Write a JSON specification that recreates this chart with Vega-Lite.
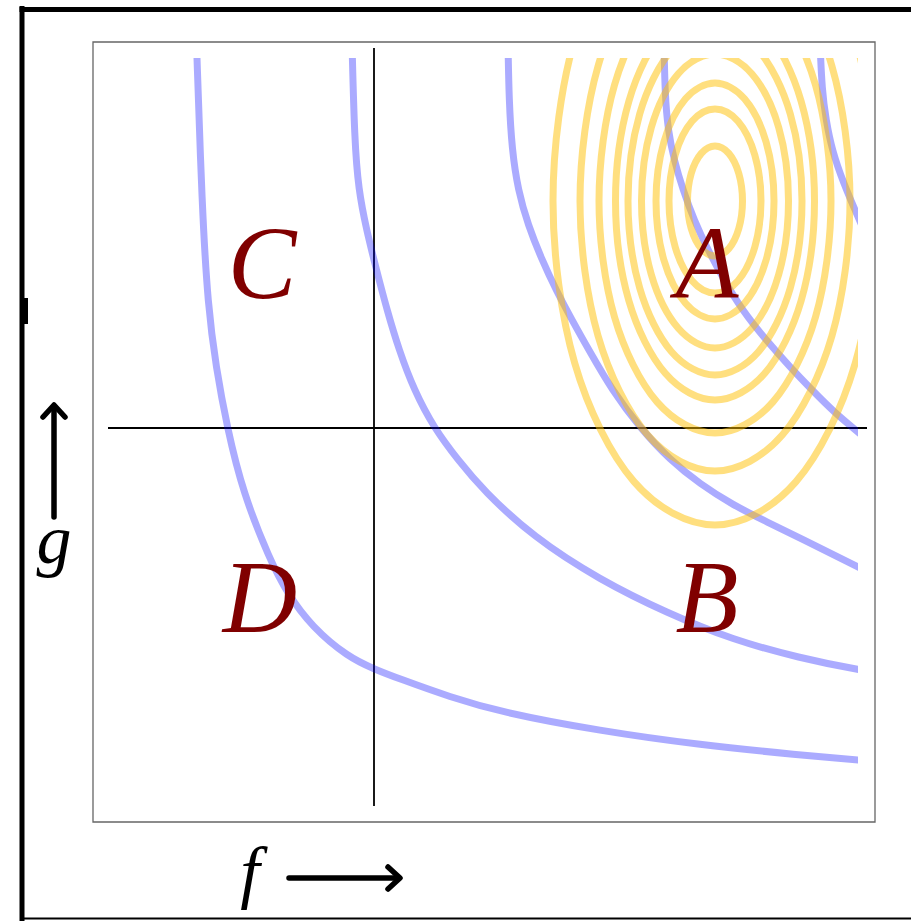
{
  "$schema": "https://vega.github.io/schema/vega-lite/v6.json",
  "width": 750,
  "height": 748,
  "autosize": {"type": "none"},
  "padding": {"left": 108, "top": 58, "right": 53, "bottom": 115},
  "background": "white",
  "config": {"view": {"stroke": null}},
  "datasets": {
    "rings": [
      {"ring": 1, "k": 0, "x": 3.685, "y": 2.27}, {"ring": 1, "k": 1, "x": 3.648, "y": 2.545}, {"ring": 1, "k": 2, "x": 3.548, "y": 2.746}, {"ring": 1, "k": 3, "x": 3.41, "y": 2.82}, {"ring": 1, "k": 4, "x": 3.273, "y": 2.746}, {"ring": 1, "k": 5, "x": 3.172, "y": 2.545}, {"ring": 1, "k": 6, "x": 3.135, "y": 2.27}, {"ring": 1, "k": 7, "x": 3.172, "y": 1.995}, {"ring": 1, "k": 8, "x": 3.273, "y": 1.794}, {"ring": 1, "k": 9, "x": 3.41, "y": 1.72}, {"ring": 1, "k": 10, "x": 3.548, "y": 1.794}, {"ring": 1, "k": 11, "x": 3.648, "y": 1.995},
      {"ring": 2, "k": 0, "x": 3.87, "y": 2.27}, {"ring": 2, "k": 1, "x": 3.808, "y": 2.73}, {"ring": 2, "k": 2, "x": 3.64, "y": 3.067}, {"ring": 2, "k": 3, "x": 3.41, "y": 3.19}, {"ring": 2, "k": 4, "x": 3.18, "y": 3.067}, {"ring": 2, "k": 5, "x": 3.012, "y": 2.73}, {"ring": 2, "k": 6, "x": 2.95, "y": 2.27}, {"ring": 2, "k": 7, "x": 3.012, "y": 1.81}, {"ring": 2, "k": 8, "x": 3.18, "y": 1.473}, {"ring": 2, "k": 9, "x": 3.41, "y": 1.35}, {"ring": 2, "k": 10, "x": 3.64, "y": 1.473}, {"ring": 2, "k": 11, "x": 3.808, "y": 1.81},
      {"ring": 3, "k": 0, "x": 4.0, "y": 2.27}, {"ring": 3, "k": 1, "x": 3.921, "y": 2.86}, {"ring": 3, "k": 2, "x": 3.705, "y": 3.292}, {"ring": 3, "k": 3, "x": 3.41, "y": 3.45}, {"ring": 3, "k": 4, "x": 3.115, "y": 3.292}, {"ring": 3, "k": 5, "x": 2.899, "y": 2.86}, {"ring": 3, "k": 6, "x": 2.82, "y": 2.27}, {"ring": 3, "k": 7, "x": 2.899, "y": 1.68}, {"ring": 3, "k": 8, "x": 3.115, "y": 1.248}, {"ring": 3, "k": 9, "x": 3.41, "y": 1.09}, {"ring": 3, "k": 10, "x": 3.705, "y": 1.248}, {"ring": 3, "k": 11, "x": 3.921, "y": 1.68},
      {"ring": 4, "k": 0, "x": 4.145, "y": 2.27}, {"ring": 4, "k": 1, "x": 4.047, "y": 3.005}, {"ring": 4, "k": 2, "x": 3.778, "y": 3.543}, {"ring": 4, "k": 3, "x": 3.41, "y": 3.74}, {"ring": 4, "k": 4, "x": 3.043, "y": 3.543}, {"ring": 4, "k": 5, "x": 2.773, "y": 3.005}, {"ring": 4, "k": 6, "x": 2.675, "y": 2.27}, {"ring": 4, "k": 7, "x": 2.773, "y": 1.535}, {"ring": 4, "k": 8, "x": 3.043, "y": 0.997}, {"ring": 4, "k": 9, "x": 3.41, "y": 0.8}, {"ring": 4, "k": 10, "x": 3.778, "y": 0.997}, {"ring": 4, "k": 11, "x": 4.047, "y": 1.535},
      {"ring": 5, "k": 0, "x": 4.28, "y": 2.27}, {"ring": 5, "k": 1, "x": 4.163, "y": 3.14}, {"ring": 5, "k": 2, "x": 3.845, "y": 3.777}, {"ring": 5, "k": 3, "x": 3.41, "y": 4.01}, {"ring": 5, "k": 4, "x": 2.975, "y": 3.777}, {"ring": 5, "k": 5, "x": 2.657, "y": 3.14}, {"ring": 5, "k": 6, "x": 2.54, "y": 2.27}, {"ring": 5, "k": 7, "x": 2.657, "y": 1.4}, {"ring": 5, "k": 8, "x": 2.975, "y": 0.763}, {"ring": 5, "k": 9, "x": 3.41, "y": 0.53}, {"ring": 5, "k": 10, "x": 3.845, "y": 0.763}, {"ring": 5, "k": 11, "x": 4.163, "y": 1.4},
      {"ring": 6, "k": 0, "x": 4.405, "y": 2.27}, {"ring": 6, "k": 1, "x": 4.272, "y": 3.265}, {"ring": 6, "k": 2, "x": 3.908, "y": 3.993}, {"ring": 6, "k": 3, "x": 3.41, "y": 4.26}, {"ring": 6, "k": 4, "x": 2.913, "y": 3.993}, {"ring": 6, "k": 5, "x": 2.548, "y": 3.265}, {"ring": 6, "k": 6, "x": 2.415, "y": 2.27}, {"ring": 6, "k": 7, "x": 2.548, "y": 1.275}, {"ring": 6, "k": 8, "x": 2.913, "y": 0.547}, {"ring": 6, "k": 9, "x": 3.41, "y": 0.28}, {"ring": 6, "k": 10, "x": 3.908, "y": 0.547}, {"ring": 6, "k": 11, "x": 4.272, "y": 1.275},
      {"ring": 7, "k": 0, "x": 4.57, "y": 2.27}, {"ring": 7, "k": 1, "x": 4.415, "y": 3.43}, {"ring": 7, "k": 2, "x": 3.99, "y": 4.279}, {"ring": 7, "k": 3, "x": 3.41, "y": 4.59}, {"ring": 7, "k": 4, "x": 2.83, "y": 4.279}, {"ring": 7, "k": 5, "x": 2.405, "y": 3.43}, {"ring": 7, "k": 6, "x": 2.25, "y": 2.27}, {"ring": 7, "k": 7, "x": 2.405, "y": 1.11}, {"ring": 7, "k": 8, "x": 2.83, "y": 0.261}, {"ring": 7, "k": 9, "x": 3.41, "y": -0.05}, {"ring": 7, "k": 10, "x": 3.99, "y": 0.261}, {"ring": 7, "k": 11, "x": 4.415, "y": 1.11},
      {"ring": 8, "k": 0, "x": 4.76, "y": 2.27}, {"ring": 8, "k": 1, "x": 4.579, "y": 3.62}, {"ring": 8, "k": 2, "x": 4.085, "y": 4.608}, {"ring": 8, "k": 3, "x": 3.41, "y": 4.97}, {"ring": 8, "k": 4, "x": 2.735, "y": 4.608}, {"ring": 8, "k": 5, "x": 2.241, "y": 3.62}, {"ring": 8, "k": 6, "x": 2.06, "y": 2.27}, {"ring": 8, "k": 7, "x": 2.241, "y": 0.92}, {"ring": 8, "k": 8, "x": 2.735, "y": -0.068}, {"ring": 8, "k": 9, "x": 3.41, "y": -0.43}, {"ring": 8, "k": 10, "x": 4.085, "y": -0.068}, {"ring": 8, "k": 11, "x": 4.579, "y": 0.92},
      {"ring": 9, "k": 0, "x": 5.03, "y": 2.27}, {"ring": 9, "k": 1, "x": 4.813, "y": 3.89}, {"ring": 9, "k": 2, "x": 4.22, "y": 5.076}, {"ring": 9, "k": 3, "x": 3.41, "y": 5.51}, {"ring": 9, "k": 4, "x": 2.6, "y": 5.076}, {"ring": 9, "k": 5, "x": 2.007, "y": 3.89}, {"ring": 9, "k": 6, "x": 1.79, "y": 2.27}, {"ring": 9, "k": 7, "x": 2.007, "y": 0.65}, {"ring": 9, "k": 8, "x": 2.6, "y": -0.536}, {"ring": 9, "k": 9, "x": 3.41, "y": -0.97}, {"ring": 9, "k": 10, "x": 4.22, "y": -0.536}, {"ring": 9, "k": 11, "x": 4.813, "y": 0.65}
    ],
    "levels": [
      {"c": 1, "i": 0, "x": -1.775, "y": 3.85}, {"c": 1, "i": 1, "x": -1.72, "y": 2.21}, {"c": 1, "i": 2, "x": -1.66, "y": 1.21}, {"c": 1, "i": 3, "x": -1.58, "y": 0.61}, {"c": 1, "i": 4, "x": -1.47, "y": 0.01}, {"c": 1, "i": 5, "x": -1.31, "y": -0.65}, {"c": 1, "i": 6, "x": -1.04, "y": -1.32}, {"c": 1, "i": 7, "x": -0.87, "y": -1.65}, {"c": 1, "i": 8, "x": -0.62, "y": -1.99}, {"c": 1, "i": 9, "x": -0.26, "y": -2.29}, {"c": 1, "i": 10, "x": 0.0, "y": -2.41}, {"c": 1, "i": 11, "x": 0.26, "y": -2.51}, {"c": 1, "i": 12, "x": 0.76, "y": -2.69}, {"c": 1, "i": 13, "x": 1.26, "y": -2.84}, {"c": 1, "i": 14, "x": 2.26, "y": -3.03}, {"c": 1, "i": 15, "x": 3.26, "y": -3.17}, {"c": 1, "i": 16, "x": 4.26, "y": -3.27}, {"c": 1, "i": 17, "x": 4.84, "y": -3.32}, {"c": 1, "i": 18, "x": 5.76, "y": -3.4},
      {"c": 2, "i": 0, "x": -0.22, "y": 3.85}, {"c": 2, "i": 1, "x": -0.195, "y": 2.88}, {"c": 2, "i": 2, "x": -0.155, "y": 2.38}, {"c": 2, "i": 3, "x": -0.075, "y": 1.98}, {"c": 2, "i": 4, "x": 0.025, "y": 1.58}, {"c": 2, "i": 5, "x": 0.13, "y": 1.18}, {"c": 2, "i": 6, "x": 0.25, "y": 0.78}, {"c": 2, "i": 7, "x": 0.4, "y": 0.38}, {"c": 2, "i": 8, "x": 0.6, "y": 0.0}, {"c": 2, "i": 9, "x": 0.84, "y": -0.32}, {"c": 2, "i": 10, "x": 1.09, "y": -0.62}, {"c": 2, "i": 11, "x": 1.59, "y": -1.09}, {"c": 2, "i": 12, "x": 2.26, "y": -1.52}, {"c": 2, "i": 13, "x": 2.93, "y": -1.85}, {"c": 2, "i": 14, "x": 3.59, "y": -2.12}, {"c": 2, "i": 15, "x": 4.26, "y": -2.3}, {"c": 2, "i": 16, "x": 4.84, "y": -2.42}, {"c": 2, "i": 17, "x": 5.5, "y": -2.52},
      {"c": 3, "i": 0, "x": 1.34, "y": 3.85}, {"c": 3, "i": 1, "x": 1.35, "y": 3.28}, {"c": 3, "i": 2, "x": 1.38, "y": 2.78}, {"c": 3, "i": 3, "x": 1.44, "y": 2.38}, {"c": 3, "i": 4, "x": 1.54, "y": 2.03}, {"c": 3, "i": 5, "x": 1.68, "y": 1.68}, {"c": 3, "i": 6, "x": 1.82, "y": 1.38}, {"c": 3, "i": 7, "x": 1.98, "y": 1.08}, {"c": 3, "i": 8, "x": 2.16, "y": 0.76}, {"c": 3, "i": 9, "x": 2.38, "y": 0.38}, {"c": 3, "i": 10, "x": 2.66, "y": 0.0}, {"c": 3, "i": 11, "x": 2.96, "y": -0.32}, {"c": 3, "i": 12, "x": 3.26, "y": -0.56}, {"c": 3, "i": 13, "x": 3.59, "y": -0.77}, {"c": 3, "i": 14, "x": 3.93, "y": -0.94}, {"c": 3, "i": 15, "x": 4.26, "y": -1.1}, {"c": 3, "i": 16, "x": 4.84, "y": -1.39}, {"c": 3, "i": 17, "x": 5.5, "y": -1.72},
      {"c": 4, "i": 0, "x": 2.9, "y": 3.85}, {"c": 4, "i": 1, "x": 2.91, "y": 3.33}, {"c": 4, "i": 2, "x": 2.94, "y": 2.98}, {"c": 4, "i": 3, "x": 3.0, "y": 2.68}, {"c": 4, "i": 4, "x": 3.09, "y": 2.38}, {"c": 4, "i": 5, "x": 3.2, "y": 2.08}, {"c": 4, "i": 6, "x": 3.34, "y": 1.78}, {"c": 4, "i": 7, "x": 3.5, "y": 1.48}, {"c": 4, "i": 8, "x": 3.68, "y": 1.18}, {"c": 4, "i": 9, "x": 3.92, "y": 0.88}, {"c": 4, "i": 10, "x": 4.16, "y": 0.61}, {"c": 4, "i": 11, "x": 4.38, "y": 0.38}, {"c": 4, "i": 12, "x": 4.61, "y": 0.15}, {"c": 4, "i": 13, "x": 4.84, "y": -0.04}, {"c": 4, "i": 14, "x": 5.2, "y": -0.34},
      {"c": 5, "i": 0, "x": 4.46, "y": 3.85}, {"c": 5, "i": 1, "x": 4.48, "y": 3.38}, {"c": 5, "i": 2, "x": 4.52, "y": 3.08}, {"c": 5, "i": 3, "x": 4.58, "y": 2.78}, {"c": 5, "i": 4, "x": 4.69, "y": 2.46}, {"c": 5, "i": 5, "x": 4.84, "y": 2.11}, {"c": 5, "i": 6, "x": 5.0, "y": 1.75}
    ],
    "arrows": [
      {"part": "f-shaft", "i": 0, "x": -0.85, "y": -4.5}, {"part": "f-shaft", "i": 1, "x": 0.24, "y": -4.5},
      {"part": "f-head", "i": 0, "x": 0.14, "y": -4.39}, {"part": "f-head", "i": 1, "x": 0.26, "y": -4.5}, {"part": "f-head", "i": 2, "x": 0.14, "y": -4.61},
      {"part": "g-shaft", "i": 0, "x": -3.2, "y": -0.89}, {"part": "g-shaft", "i": 1, "x": -3.2, "y": 0.21},
      {"part": "g-head", "i": 0, "x": -3.31, "y": 0.11}, {"part": "g-head", "i": 1, "x": -3.2, "y": 0.23}, {"part": "g-head", "i": 2, "x": -3.09, "y": 0.11}
    ]
  },
  "encoding": {
    "x": {"field": "x", "type": "quantitative", "scale": {"domain": [-2.66, 4.84], "nice": false, "zero": false}, "axis": null},
    "y": {"field": "y", "type": "quantitative", "scale": {"domain": [-3.78, 3.7], "nice": false, "zero": false}, "axis": null}
  },
  "layer": [
    {
      "data": {"values": [{"x": -2.81, "x2": 5.01, "y": -3.94, "y2": 3.86}]},
      "mark": {"type": "rect", "fillOpacity": 0, "stroke": "#666666", "strokeWidth": 1.3, "clip": false},
      "encoding": {"x2": {"field": "x2"}, "y2": {"field": "y2"}}
    },
    {
      "data": {"values": [
        {"x": -3.52, "y": 4.22, "x2": -3.52, "y2": -4.95},
        {"x": -3.545, "y": 4.185, "x2": 5.5, "y2": 4.185}
      ]},
      "mark": {"type": "rule", "color": "black", "strokeWidth": 5, "clip": false},
      "encoding": {"x2": {"field": "x2"}, "y2": {"field": "y2"}}
    },
    {
      "data": {"values": [{"x": -3.52, "y": -4.905, "x2": 5.5, "y2": -4.905}]},
      "mark": {"type": "rule", "color": "black", "strokeWidth": 2, "clip": false},
      "encoding": {"x2": {"field": "x2"}, "y2": {"field": "y2"}}
    },
    {
      "data": {"values": [{"x": -3.48, "y": 1.3, "x2": -3.48, "y2": 1.04}]},
      "mark": {"type": "rule", "color": "black", "strokeWidth": 4, "clip": false},
      "encoding": {"x2": {"field": "x2"}, "y2": {"field": "y2"}}
    },
    {
      "data": {"values": [
        {"x": 0, "y": 3.8, "x2": 0, "y2": -3.78},
        {"x": -2.66, "y": 0, "x2": 4.93, "y2": 0}
      ]},
      "mark": {"type": "rule", "color": "black", "strokeWidth": 1.8, "clip": false},
      "encoding": {"x2": {"field": "x2"}, "y2": {"field": "y2"}}
    },
    {
      "data": {"name": "levels"},
      "mark": {"type": "line", "interpolate": "basis", "color": "#0000ff", "strokeOpacity": 0.33, "strokeWidth": 7, "clip": true},
      "encoding": {"detail": {"field": "c", "type": "nominal"}, "order": {"field": "i", "type": "quantitative"}}
    },
    {
      "data": {"name": "rings"},
      "mark": {"type": "line", "interpolate": "cardinal-closed", "color": "#ffc000", "strokeOpacity": 0.5, "strokeWidth": 7, "clip": true},
      "encoding": {"detail": {"field": "ring", "type": "nominal"}, "order": {"field": "k", "type": "quantitative"}}
    },
    {
      "data": {"values": [
        {"t": "C", "x": -1.12, "y": 1.3},
        {"t": "A", "x": 3.33, "y": 1.3},
        {"t": "D", "x": -1.14, "y": -2.04},
        {"t": "B", "x": 3.33, "y": -2.04}
      ]},
      "mark": {"type": "text", "font": "Liberation Serif", "fontStyle": "italic", "fontSize": 103, "color": "#800000", "align": "center", "baseline": "alphabetic"},
      "encoding": {"text": {"field": "t"}}
    },
    {
      "data": {"values": [
        {"t": "f", "x": -1.24, "y": -4.67},
        {"t": "g", "x": -3.2, "y": -1.35}
      ]},
      "mark": {"type": "text", "font": "Liberation Serif", "fontStyle": "italic", "fontSize": 70, "color": "black", "align": "center", "baseline": "alphabetic", "clip": false},
      "encoding": {"text": {"field": "t"}}
    },
    {
      "data": {"name": "arrows"},
      "mark": {"type": "line", "color": "black", "strokeWidth": 5.5, "strokeCap": "round", "strokeJoin": "round", "clip": false},
      "encoding": {"detail": {"field": "part", "type": "nominal"}, "order": {"field": "i", "type": "quantitative"}}
    }
  ]
}
